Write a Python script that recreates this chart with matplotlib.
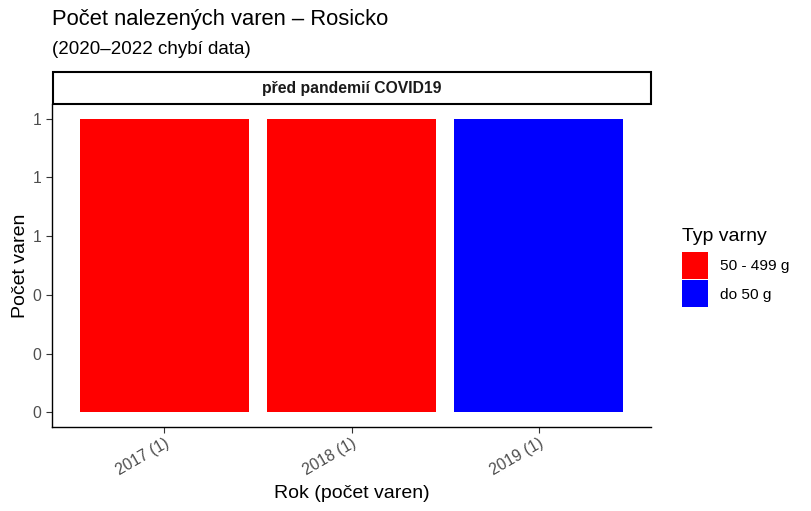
import matplotlib.pyplot as plt
from matplotlib.patches import Patch, Rectangle
from matplotlib.ticker import FixedLocator, FuncFormatter

plt.rcParams['font.family'] = ['Liberation Sans', 'DejaVu Sans']

# --- data ---
years = ["2017 (1)", "2018 (1)", "2019 (1)"]
counts = [1, 1, 1]
types = ["50 - 499 g", "50 - 499 g", "do 50 g"]
type_order = ["50 - 499 g", "do 50 g"]
type_colors = {"50 - 499 g": "#FF0000", "do 50 g": "#0000FF"}
y_ticks = [0, 0.2, 0.4, 0.6, 0.8, 1.0]
# ------------

W, H = 811, 511
fig = plt.figure(figsize=(W / 100, H / 100), dpi=100)

def fx(px):
    return px / W

def fy(py):
    return 1 - py / H

ax = fig.add_axes([fx(52), fy(427), fx(651) - fx(52), fy(104) - fy(427)])
x = list(range(1, len(years) + 1))
ax.bar(x, counts, width=0.9, color=[type_colors[t] for t in types])
ax.set_xlim(0.4, len(years) + 0.6)
ax.set_ylim(-0.05, 1.05)
ax.set_xticks(x)
ax.set_xticklabels(years, rotation=30, ha="right", rotation_mode="anchor",
                   fontsize=11.3, color="#4D4D4D")
ax.yaxis.set_major_locator(FixedLocator(y_ticks))
ax.yaxis.set_major_formatter(FuncFormatter(lambda v, p: f"{v:.0f}"))
ax.tick_params(axis="y", labelsize=11.3, labelcolor="#4D4D4D")
ax.tick_params(axis="x", pad=2.5)
ax.tick_params(length=4, width=0.8, color="#333333")
for s in ["top", "right"]:
    ax.spines[s].set_visible(False)
for s in ["left", "bottom"]:
    ax.spines[s].set_linewidth(1.0)
ax.set_xlabel("Rok (počet varen)", fontsize=14, labelpad=5)
ax.set_ylabel("Počet varen", fontsize=14)
ax.yaxis.set_label_coords(-0.038, 0.5)

# facet strip
fig.patches.append(Rectangle((fx(53), fy(104)), fx(651) - fx(53), fy(72) - fy(104),
                             transform=fig.transFigure, facecolor="white",
                             edgecolor="black", linewidth=1.5))
fig.text(fx(352), fy(88), "před pandemií COVID19", ha="center", va="center",
         fontsize=11.3, fontweight="bold", color="#1A1A1A")

fig.text(fx(52), fy(19), "Počet nalezených varen – Rosicko", fontsize=15.8,
         ha="left", va="center")
fig.text(fx(52), fy(50), "(2020–2022 chybí data)", fontsize=13.5,
         ha="left", va="center")

handles = [Patch(facecolor=type_colors[t], label=t) for t in type_order]
leg = fig.legend(handles=handles, title="Typ varny", loc="upper left",
                 bbox_to_anchor=(fx(676), fy(222)), frameon=False,
                 fontsize=11.1, title_fontsize=14, handlelength=1.7,
                 handleheight=2.3, labelspacing=0.1, handletextpad=0.78,
                 borderaxespad=0)
leg._legend_box.align = "left"
leg._legend_box.sep = 5

fig.savefig("out.png", dpi=100)
